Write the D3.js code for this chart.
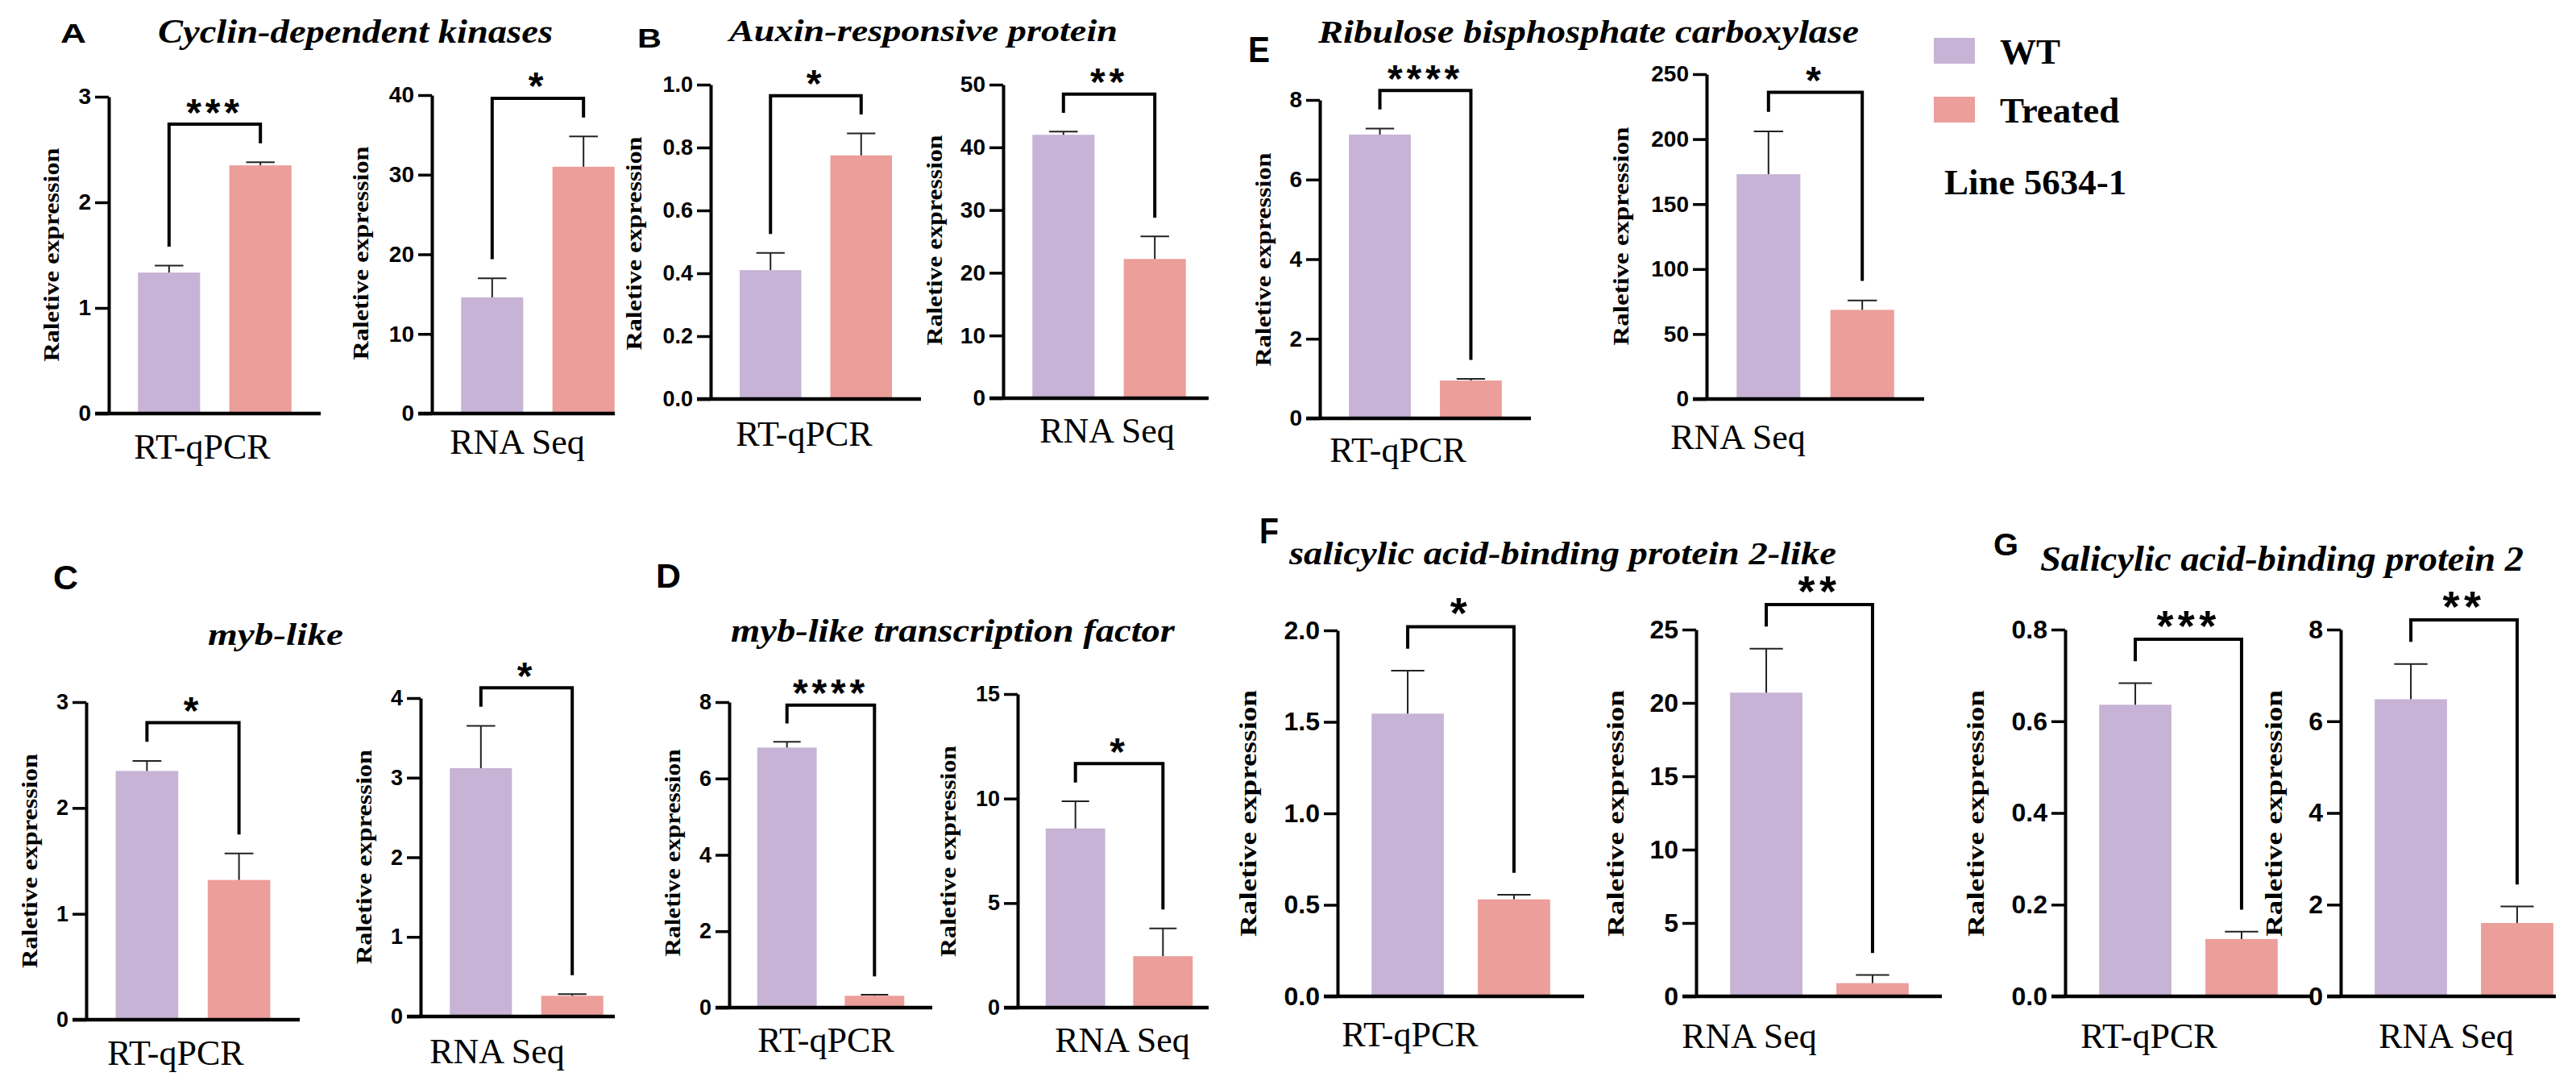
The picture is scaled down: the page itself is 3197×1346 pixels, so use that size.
<!DOCTYPE html>
<html>
<head>
<meta charset="utf-8">
<title>Relative expression, WT vs Treated</title>
<script src="https://cdn.jsdelivr.net/npm/d3@7"></script>
<style>
    html, body { margin: 0; padding: 0; background: #fff; }
    svg { display: block; }
</style>
</head>
<body>
<svg id="figure" width="3197" height="1346"></svg>
<script>
// Values. Plot order: A, B, E, C, D, F, G, each with RT-qPCR then RNA Seq.
const groups = ["WT", "Treated"];
const methods = ["RT-qPCR", "RNA Seq"];
const panelLetters = ["A", "B", "E", "C", "D", "F", "G"];
const geneNames = [
    "Cyclin-dependent kinases",
    "Auxin-responsive protein",
    "Ribulose bisphosphate carboxylase",
    "myb-like",
    "myb-like transcription factor",
    "salicylic acid-binding protein 2-like",
    "Salicylic acid-binding protein 2"
];
const yMax = [3, 40, 1.0, 50, 8, 250, 3, 4, 8, 15, 2.0, 25, 0.8, 8];
const yTicks = [
    [0, 1, 2, 3], [0, 10, 20, 30, 40],
    [0, 0.2, 0.4, 0.6, 0.8, 1.0], [0, 10, 20, 30, 40, 50],
    [0, 2, 4, 6, 8], [0, 50, 100, 150, 200, 250],
    [0, 1, 2, 3], [0, 1, 2, 3, 4],
    [0, 2, 4, 6, 8], [0, 5, 10, 15],
    [0, 0.5, 1.0, 1.5, 2.0], [0, 5, 10, 15, 20, 25],
    [0, 0.2, 0.4, 0.6, 0.8], [0, 2, 4, 6, 8]
];
const wtMean = [1.335, 14.6, 0.41, 42.0, 7.13, 173, 2.35, 3.12, 6.81, 8.57, 1.545, 20.7, 0.636, 6.48];
const wtError = [0.065, 2.4, 0.055, 0.5, 0.15, 33, 0.095, 0.53, 0.15, 1.3, 0.235, 3.0, 0.047, 0.77];
const treatedMean = [2.35, 31.0, 0.775, 22.2, 0.95, 68.6, 1.32, 0.26, 0.31, 2.46, 0.53, 0.9, 0.125, 1.6];
const treatedError = [0.03, 3.8, 0.07, 3.6, 0.04, 7.3, 0.25, 0.02, 0.03, 1.33, 0.025, 0.55, 0.016, 0.36];
const significance = ["***", "*", "*", "**", "****", "*", "*", "*", "****", "*", "*", "**", "***", "**"];
const lineName = "Line 5634-1";

const expressionFigure = (function () {
    "use strict";

    const serif = "'Liberation Serif', 'Times New Roman', serif",
        sans = "'Liberation Sans', Arial, sans-serif",
        colour = d3.scaleOrdinal().domain(groups).range(["#c6b3d5", "#eb9e9a"]),
        tickLength = 17;

    // where each small plot sits on the page (pixels)
    const plotFrames = [
        {axisX: 135, yTop: 120, yBottom: 513, width: 263, lineEnd: 398, xLabel: [251, 569], yLabel: [67, 316, 265], tickSize: 28, starSize: 48},
        {axisX: 536, yTop: 118, yBottom: 513, width: 263, lineEnd: 763, xLabel: [642, 563], yLabel: [451, 314, 265], tickSize: 28, starSize: 48},
        {axisX: 882, yTop: 105, yBottom: 495, width: 261, lineEnd: 1143, xLabel: [998, 553], yLabel: [790, 302, 265], tickSize: 27, starSize: 48},
        {axisX: 1245, yTop: 105, yBottom: 494, width: 263, lineEnd: 1500, xLabel: [1374, 549], yLabel: [1163, 298, 261], tickSize: 28, starSize: 48},
        {axisX: 1638, yTop: 124, yBottom: 519, width: 262, lineEnd: 1900, xLabel: [1735, 573], yLabel: [1571, 322, 265], tickSize: 28, starSize: 48},
        {axisX: 2118, yTop: 92, yBottom: 495, width: 270, lineEnd: 2388, xLabel: [2157, 557], yLabel: [2015, 293, 271], tickSize: 28, starSize: 48},
        {axisX: 107, yTop: 871, yBottom: 1265, width: 265, lineEnd: 372, xLabel: [218, 1321], yLabel: [40, 1068, 266], tickSize: 27, starSize: 48},
        {axisX: 522, yTop: 866, yBottom: 1261, width: 263, lineEnd: 763, xLabel: [617, 1319], yLabel: [455, 1063, 266], tickSize: 27, starSize: 48},
        {axisX: 905, yTop: 871, yBottom: 1250, width: 252, lineEnd: 1157, xLabel: [1025, 1305], yLabel: [838, 1058, 257], tickSize: 27, starSize: 48},
        {axisX: 1263, yTop: 861, yBottom: 1250, width: 252, lineEnd: 1500, xLabel: [1393, 1305], yLabel: [1180, 1056, 262], tickSize: 27, starSize: 48},
        {axisX: 1660, yTop: 782, yBottom: 1236, width: 306, lineEnd: 1966, xLabel: [1750, 1298], yLabel: [1552, 1009, 306], tickSize: 32, starSize: 54},
        {axisX: 2105, yTop: 781, yBottom: 1236, width: 306, lineEnd: 2410, xLabel: [2171, 1300], yLabel: [2008, 1009, 306], tickSize: 32, starSize: 54},
        {axisX: 2563, yTop: 781, yBottom: 1236, width: 306, lineEnd: 2871, xLabel: [2667, 1300], yLabel: [2455, 1009, 306], tickSize: 32, starSize: 54},
        {axisX: 2905, yTop: 781, yBottom: 1236, width: 306, lineEnd: 3172, xLabel: [3036, 1300], yLabel: [2825, 1009, 306], tickSize: 32, starSize: 54}
    ];

    // panel letter and italic gene title placement
    const panelFrames = [
        {letter: [75, 53, 33, 32], title: [196, 53, 42, 490]},
        {letter: [791, 59, 33, 30], title: [905, 51, 38, 482]},
        {letter: [1549, 77, 44, 27], title: [1636, 53, 40, 671]},
        {letter: [66, 731, 42, 31], title: [258, 800, 37, 168]},
        {letter: [814, 729, 42, 31], title: [907, 796, 39, 551]},
        {letter: [1563, 674, 44, 24], title: [1600, 700, 41, 679]},
        {letter: [2474, 689, 38, 31], title: [2532, 708, 44, 600]}
    ];

    /**
     * Draw one WT / Treated bar plot with error bars, axes and the
     * significance bracket.
     * @param {Object} svg d3 selection of the page svg.
     * @param {Number} i Index into the value arrays.
     */
    function drawPlot(svg, i) {
        const frame = plotFrames[i],
            g = svg.append("g").attr("class", "plot");

        const y = d3.scaleLinear()
            .domain([0, yMax[i]])
            .range([frame.yBottom, frame.yTop]);
        const x = d3.scaleBand()
            .domain(groups)
            .range([frame.axisX, frame.axisX + frame.width])
            .paddingInner(0.32)
            .paddingOuter(0.32);

        const rows = groups.map((group, k) => ({
            group: group,
            mean: k === 0 ? wtMean[i] : treatedMean[i],
            error: k === 0 ? wtError[i] : treatedError[i]
        }));

        g.selectAll("rect.bar")
            .data(rows)
            .join("rect")
            .attr("class", "bar")
            .attr("x", (d) => x(d.group))
            .attr("y", (d) => y(d.mean))
            .attr("width", x.bandwidth())
            .attr("height", (d) => y(0) - y(d.mean))
            .style("fill", (d) => colour(d.group));

        const cx = (d) => x(d.group) + x.bandwidth() / 2,
            capHalf = x.bandwidth() * 0.23;
        g.selectAll("line.err")
            .data(rows)
            .join("line")
            .attr("class", "err")
            .attr("x1", cx).attr("x2", cx)
            .attr("y1", (d) => y(d.mean))
            .attr("y2", (d) => y(d.mean + d.error))
            .attr("stroke", "#222").attr("stroke-width", 2);
        g.selectAll("line.cap")
            .data(rows)
            .join("line")
            .attr("class", "cap")
            .attr("x1", (d) => cx(d) - capHalf)
            .attr("x2", (d) => cx(d) + capHalf)
            .attr("y1", (d) => y(d.mean + d.error))
            .attr("y2", (d) => y(d.mean + d.error))
            .attr("stroke", "#222").attr("stroke-width", 2);

        // y axis
        const decimals = yTicks[i].some((t) => !Number.isInteger(t));
        const axis = g.append("g")
            .attr("transform", `translate(${frame.axisX},0)`)
            .call(d3.axisLeft(y)
                .tickValues(yTicks[i])
                .tickSize(tickLength)
                .tickSizeOuter(0)
                .tickPadding(5)
                .tickFormat(d3.format(decimals ? ".1f" : "d")));
        axis.select(".domain").attr("stroke", "#000").attr("stroke-width", 4);
        axis.selectAll(".tick line").attr("stroke", "#000").attr("stroke-width", 3.5);
        axis.selectAll(".tick text")
            .attr("fill", "#000")
            .style("font-family", sans)
            .style("font-weight", "bold")
            .style("font-size", frame.tickSize + "px");

        // x axis line, from the tick start to the right end
        g.append("line")
            .attr("x1", frame.axisX - tickLength)
            .attr("x2", frame.lineEnd)
            .attr("y1", y(0)).attr("y2", y(0))
            .attr("stroke", "#000").attr("stroke-width", 4.5);

        // significance bracket: arms sit a fixed gap above each error bar
        const gap = yMax[i] * 0.06,
            arms = rows.map((d) => d.mean + d.error + gap),
            top = d3.max(arms) + gap;
        g.append("path")
            .attr("d", `M${cx(rows[0])},${y(arms[0])}V${y(top)}H${cx(rows[1])}V${y(arms[1])}`)
            .attr("fill", "none")
            .attr("stroke", "#000").attr("stroke-width", 4);
        g.append("text")
            .attr("x", (cx(rows[0]) + cx(rows[1])) / 2)
            .attr("y", y(top) + frame.starSize * 0.03)
            .attr("text-anchor", "middle")
            .style("font-family", sans)
            .style("font-weight", "bold")
            .style("font-size", frame.starSize + "px")
            .style("letter-spacing", "0.1em")
            .text(significance[i]);

        // method label under the plot
        g.append("text")
            .attr("x", frame.xLabel[0])
            .attr("y", frame.xLabel[1])
            .attr("text-anchor", "middle")
            .style("font-family", serif)
            .style("font-size", "44px")
            .text(methods[i % 2]);

        // rotated y label
        const ySize = frame.yLabel[2] > 290 ? 30 : 28;
        g.append("text")
            .attr("transform", `translate(${frame.yLabel[0] + ySize * 0.23},${frame.yLabel[1]}) rotate(-90)`)
            .attr("text-anchor", "middle")
            .attr("textLength", frame.yLabel[2])
            .attr("lengthAdjust", "spacingAndGlyphs")
            .style("font-family", serif)
            .style("font-weight", "bold")
            .style("font-size", ySize + "px")
            .text("Raletive expression");
    }

    /**
     * Panel letters and the italic gene names above each pair of plots.
     * @param {Object} svg d3 selection of the page svg.
     */
    function drawPanels(svg) {
        const panels = svg.append("g").attr("class", "panels");
        panels.selectAll("text.letter")
            .data(panelLetters)
            .join("text")
            .attr("class", "letter")
            .attr("x", (d, k) => panelFrames[k].letter[0])
            .attr("y", (d, k) => panelFrames[k].letter[1])
            .attr("textLength", (d, k) => panelFrames[k].letter[3])
            .attr("lengthAdjust", "spacingAndGlyphs")
            .style("font-family", sans)
            .style("font-weight", "bold")
            .style("font-size", (d, k) => panelFrames[k].letter[2] + "px")
            .text((d) => d);
        panels.selectAll("text.gene")
            .data(geneNames)
            .join("text")
            .attr("class", "gene")
            .attr("x", (d, k) => panelFrames[k].title[0])
            .attr("y", (d, k) => panelFrames[k].title[1])
            .attr("textLength", (d, k) => panelFrames[k].title[3])
            .attr("lengthAdjust", "spacingAndGlyphs")
            .style("font-family", serif)
            .style("font-weight", "bold")
            .style("font-style", "italic")
            .style("font-size", (d, k) => panelFrames[k].title[2] + "px")
            .text((d) => d);
    }

    /**
     * Legend with the two group swatches and the line name.
     * @param {Object} svg d3 selection of the page svg.
     */
    function drawLegend(svg) {
        const legend = svg.append("g")
            .attr("class", "legend")
            .attr("transform", "translate(2400,47)");
        const item = legend.selectAll("g")
            .data(groups)
            .join("g")
            .attr("transform", (d, k) => `translate(0,${k * 73})`);
        item.append("rect")
            .attr("width", 51)
            .attr("height", 32)
            .style("fill", (d) => colour(d));
        item.append("text")
            .attr("x", 82)
            .attr("y", 32)
            .style("font-family", serif)
            .style("font-weight", "bold")
            .style("font-size", "45px")
            .text((d) => d);
        legend.append("text")
            .attr("x", 13)
            .attr("y", 194)
            .style("font-family", serif)
            .style("font-weight", "bold")
            .style("font-size", "45px")
            .text(lineName);
    }

    function draw() {
        const svg = d3.select("#figure");
        svg.append("rect")
            .attr("width", 3197).attr("height", 1346)
            .style("fill", "#fff");
        drawPanels(svg);
        yMax.forEach((m, i) => drawPlot(svg, i));
        drawLegend(svg);
    }

    return {
        draw: draw
    };
})();

expressionFigure.draw();
</script>
</body>
</html>
